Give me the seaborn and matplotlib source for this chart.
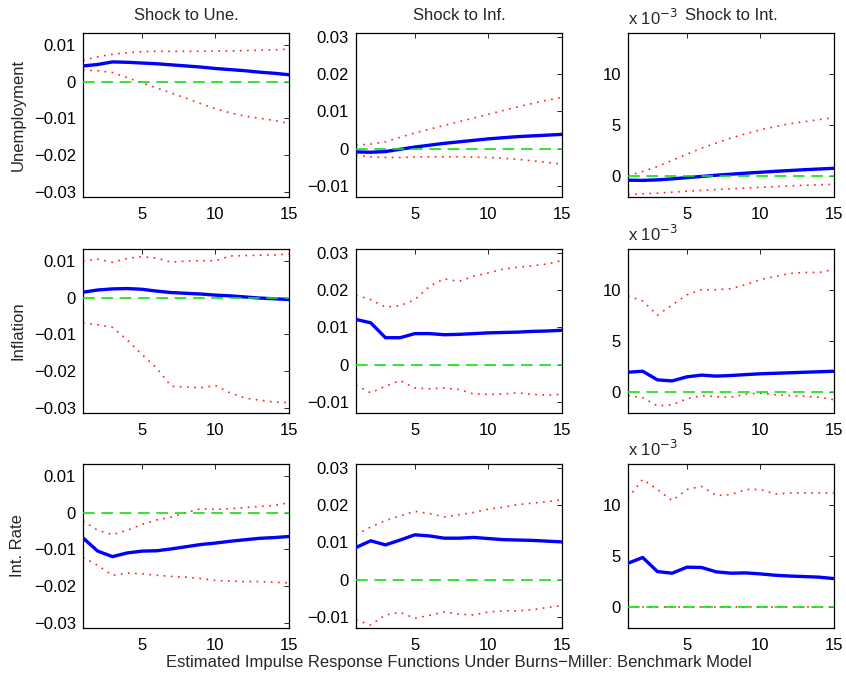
import matplotlib
matplotlib.use("Agg")
import matplotlib.pyplot as plt
import numpy as np
import pandas as pd
import seaborn as sns

# ---------------- data ----------------
periods = list(range(1, 16))
shocks = ["Shock to Une.", "Shock to Inf.", "Shock to Int."]
responses = ["Unemployment", "Inflation", "Int. Rate"]

# Unemployment response
une_une = [0.0043, 0.0047, 0.0054, 0.0053, 0.0051, 0.0049, 0.0046, 0.0043, 0.0040, 0.0036, 0.0033, 0.0030, 0.0026, 0.0023, 0.0019]
une_une_hi = [0.0058, 0.0068, 0.0075, 0.0079, 0.0082, 0.0083, 0.0083, 0.0083, 0.0083, 0.0084, 0.0084, 0.0085, 0.0086, 0.0087, 0.0089]
une_une_lo = [0.0031, 0.0030, 0.0025, 0.0011, -0.0003, -0.0017, -0.0031, -0.0045, -0.0060, -0.0074, -0.0085, -0.0094, -0.0100, -0.0106, -0.0114]

une_inf = [-0.0009, -0.0010, -0.0008, -0.0002, 0.0004, 0.0009, 0.0014, 0.0018, 0.0022, 0.0026, 0.0029, 0.0032, 0.0034, 0.0036, 0.0038]
une_inf_hi = [0.0009, 0.0012, 0.0018, 0.0030, 0.0042, 0.0052, 0.0062, 0.0072, 0.0082, 0.0092, 0.0102, 0.0112, 0.0121, 0.0130, 0.0137]
une_inf_lo = [-0.0019, -0.0022, -0.0024, -0.0024, -0.0023, -0.0022, -0.0022, -0.0022, -0.0023, -0.0024, -0.0026, -0.0029, -0.0033, -0.0037, -0.0042]

# x 10^-3
une_int = [-0.45, -0.47, -0.42, -0.32, -0.20, -0.08, 0.04, 0.14, 0.24, 0.33, 0.42, 0.50, 0.58, 0.65, 0.72]
une_int_hi = [0.0, 0.4, 0.9, 1.5, 2.1, 2.7, 3.2, 3.7, 4.1, 4.5, 4.8, 5.1, 5.3, 5.5, 5.7]
une_int_lo = [-1.85, -1.80, -1.72, -1.63, -1.53, -1.45, -1.37, -1.30, -1.22, -1.15, -1.08, -1.00, -0.95, -0.90, -0.85]

# Inflation response
inf_une = [0.0015, 0.0021, 0.0024, 0.0025, 0.0023, 0.0018, 0.0014, 0.0012, 0.0010, 0.0007, 0.0005, 0.0002, -0.0001, -0.0003, -0.0005]
inf_une_hi = [0.0100, 0.0105, 0.0097, 0.0107, 0.0112, 0.0108, 0.0097, 0.0100, 0.0101, 0.0101, 0.0114, 0.0115, 0.0116, 0.0117, 0.0119]
inf_une_lo = [-0.0069, -0.0074, -0.0081, -0.0115, -0.0155, -0.0192, -0.0242, -0.0244, -0.0246, -0.0240, -0.0260, -0.0274, -0.0280, -0.0285, -0.0287]

inf_inf = [0.0121, 0.0112, 0.0072, 0.0072, 0.0083, 0.0083, 0.0080, 0.0081, 0.0083, 0.0085, 0.0086, 0.0087, 0.0089, 0.0090, 0.0092]
inf_inf_hi = [0.0186, 0.0174, 0.0154, 0.0158, 0.0174, 0.0210, 0.0230, 0.0223, 0.0237, 0.0246, 0.0256, 0.0261, 0.0265, 0.0270, 0.0279]
inf_inf_lo = [-0.0055, -0.0076, -0.0058, -0.0043, -0.0063, -0.0065, -0.0063, -0.0067, -0.0079, -0.0080, -0.0079, -0.0076, -0.0080, -0.0082, -0.0080]

# x 10^-3
inf_int = [1.90, 2.00, 1.15, 1.05, 1.45, 1.62, 1.52, 1.58, 1.67, 1.75, 1.80, 1.85, 1.90, 1.95, 2.00]
inf_int_hi = [9.4, 8.9, 7.5, 8.5, 9.5, 10.0, 10.0, 10.1, 10.5, 11.0, 11.3, 11.6, 11.7, 11.7, 12.0]
inf_int_lo = [-0.4, -0.6, -1.4, -1.3, -0.7, -0.4, -0.5, -0.55, -0.25, -0.15, -0.3, -0.4, -0.45, -0.55, -0.8]

# Interest rate response
int_une = [-0.0069, -0.0105, -0.0120, -0.0110, -0.0105, -0.0104, -0.0099, -0.0093, -0.0087, -0.0083, -0.0078, -0.0074, -0.0070, -0.0068, -0.0065]
int_une_hi = [-0.0023, -0.0048, -0.0060, -0.0048, -0.0032, -0.0020, -0.0012, 0.0000, 0.0011, 0.0009, 0.0011, 0.0014, 0.0017, 0.0020, 0.0027]
int_une_lo = [-0.0122, -0.0144, -0.0171, -0.0165, -0.0167, -0.0171, -0.0174, -0.0176, -0.0180, -0.0185, -0.0187, -0.0188, -0.0188, -0.0190, -0.0192]

int_inf = [0.0086, 0.0104, 0.0093, 0.0106, 0.0120, 0.0117, 0.0111, 0.0111, 0.0113, 0.0110, 0.0107, 0.0106, 0.0105, 0.0103, 0.0101]
int_inf_hi = [0.0120, 0.0141, 0.0158, 0.0171, 0.0183, 0.0177, 0.0168, 0.0174, 0.0180, 0.0189, 0.0194, 0.0201, 0.0205, 0.0209, 0.0214]
int_inf_lo = [-0.0108, -0.0122, -0.0095, -0.0088, -0.0104, -0.0096, -0.0087, -0.0093, -0.0095, -0.0087, -0.0084, -0.0084, -0.0081, -0.0075, -0.0070]

# x 10^-3
int_int = [4.26, 4.82, 3.44, 3.28, 3.87, 3.84, 3.41, 3.28, 3.31, 3.21, 3.08, 3.00, 2.95, 2.89, 2.75]
int_int_hi = [10.65, 12.5, 11.5, 10.4, 11.5, 11.8, 10.9, 11.0, 11.5, 11.5, 11.05, 11.15, 11.15, 11.15, 11.15]
int_int_lo = [0.0, 0.0, 0.0, 0.0, 0.0, 0.0, 0.0, 0.0, 0.0, 0.0, 0.0, 0.0, 0.0, 0.0, 0.0]

col_ylims = [(-0.0315, 0.0133), (-0.013, 0.031), (-2.1, 14.0)]
col_yticks = [[-0.03, -0.02, -0.01, 0, 0.01], [-0.01, 0, 0.01, 0.02, 0.03], [0, 5, 10]]
col_yticklabels = [["\u22120.03", "\u22120.02", "\u22120.01", "0", "0.01"],
                   ["\u22120.01", "0", "0.01", "0.02", "0.03"],
                   ["0", "5", "10"]]
xticks = [5, 10, 15]
xlabel_text = "Estimated Impulse Response Functions Under Burns\u2212Miller: Benchmark Model"

grid = [
    [(une_une, une_une_hi, une_une_lo), (une_inf, une_inf_hi, une_inf_lo), (une_int, une_int_hi, une_int_lo)],
    [(inf_une, inf_une_hi, inf_une_lo), (inf_inf, inf_inf_hi, inf_inf_lo), (inf_int, inf_int_hi, inf_int_lo)],
    [(int_une, int_une_hi, int_une_lo), (int_inf, int_inf_hi, int_inf_lo), (int_int, int_int_hi, int_int_lo)],
]

# ---------------- style ----------------
sns.set_style("white")
plt.rcParams["font.family"] = ["Liberation Sans", "DejaVu Sans"]
plt.rcParams["font.size"] = 12
FS = 12

W, H = 846, 677
fig = plt.figure(figsize=(W / 100, H / 100), dpi=100)

col_left = [83, 356, 628]
row_top = [33, 249, 464]
aw, ah = 206, 164

for r in range(3):
    for c in range(3):
        mid, hi, lo = grid[r][c]
        ax = fig.add_axes([col_left[c] / W, 1 - (row_top[r] + ah) / H, aw / W, ah / H])
        df = pd.DataFrame({"period": periods, "mid": mid, "hi": hi, "lo": lo})
        sns.lineplot(data=df, x="period", y="mid", ax=ax, color="#0000ff", lw=2.4, zorder=3)
        sns.lineplot(data=df, x="period", y="hi", ax=ax, color="#ff2020", lw=1.2, zorder=2,
                     linestyle=(0, (1.0, 3.3)))
        sns.lineplot(data=df, x="period", y="lo", ax=ax, color="#ff2020", lw=1.2, zorder=2,
                     linestyle=(0, (1.0, 3.3)))
        ax.axhline(0, color="#10e010", lw=1.2, linestyle=(0, (7, 4)), zorder=4)
        ax.set_xlim(1, 15)
        ax.set_ylim(*col_ylims[c])
        ax.set_xticks(xticks)
        ax.set_xticklabels([str(t) for t in xticks])
        ax.set_yticks(col_yticks[c])
        ax.set_yticklabels(col_yticklabels[c])
        ax.tick_params(direction="in", length=3.5, width=0.6, top=True, right=True,
                       labelsize=FS, pad=5, colors="black")
        ax.tick_params(axis="x", pad=7)
        for s in ax.spines.values():
            s.set_color("black")
            s.set_linewidth(0.9)
        ax.set_xlabel("")
        ax.set_ylabel("")
        if c == 0:
            ax.set_ylabel(responses[r], fontsize=FS)
            ax.yaxis.set_label_coords(-0.28, 0.5)
        if r == 0:
            ax.set_title(shocks[c], fontsize=FS, pad=9)
        if c == 2:
            ax.text(0.0, 1.03, r"x 10$^{-3}$", transform=ax.transAxes, ha="left",
                    va="bottom", fontsize=FS)
        if r == 2 and c == 1:
            ax.set_xlabel(xlabel_text, fontsize=FS, labelpad=2)

fig.savefig("out.png", dpi=100)
